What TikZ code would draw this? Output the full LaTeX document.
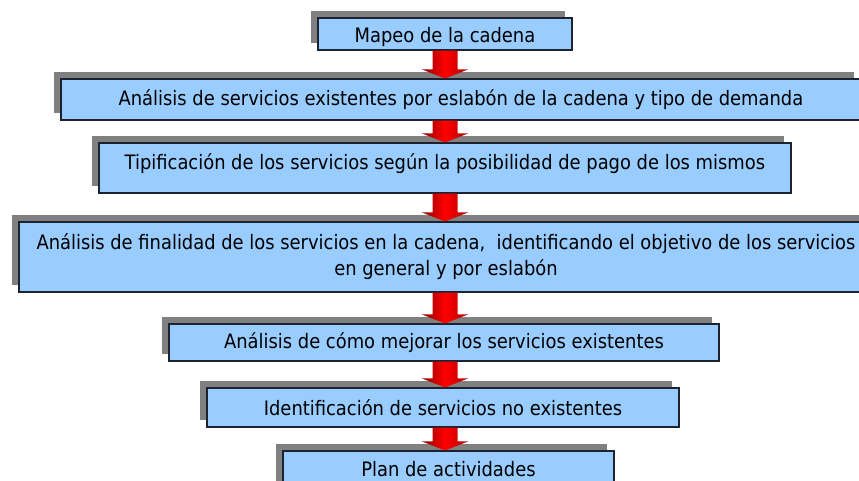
\documentclass[tikz,border=0pt]{standalone}
\usepackage{fontspec}
\setmainfont{DejaVu Sans Condensed}
\usetikzlibrary{calc,shadows}
\definecolor{boxfill}{HTML}{99CCFF}
\definecolor{boxline}{HTML}{1C2230}
\definecolor{shadowgray}{HTML}{808080}
\tikzset{
  stepbox/.style={draw=boxline, line width=1.1pt, fill=boxfill, inner sep=0pt,
    align=center, font=\fontsize{19.9}{26}\selectfont, text=black,
    general shadow={fill=shadowgray, shadow xshift=-7pt, shadow yshift=7pt}},
  redarrow/.style={left color=red!55!black, right color=red!70!black, middle color=red}
}
\newcommand{\flowarrow}[2]{%
  \path[redarrow]
    ($(#1.south -| axis)+(-12.5,0)$) --
    ($(#2.north -| axis)+(-12.5,-9)$) --
    ($(#2.north -| axis)+(-23,-9)$) --
    (#2.north -| axis) --
    ($(#2.north -| axis)+(23,-9)$) --
    ($(#2.north -| axis)+(12.5,-9)$) --
    ($(#1.south -| axis)+(12.5,0)$) -- cycle;}
\begin{document}
\begin{tikzpicture}[x=1pt,y=-1pt]
\useasboundingbox[fill=white] (0,0) rectangle (859,480);
\coordinate (axis) at (445,0);
\node[stepbox, minimum width=254pt, minimum height=32pt] (b1) at (445,34) {\raisebox{0pt}[\dimexpr\height+6pt\relax]{Mapeo de la cadena}};
\node[stepbox, minimum width=800pt, minimum height=41pt] (b2) at (461,99.5) {Análisis de servicios existentes por eslabón de la cadena y tipo de demanda};
\node[stepbox, minimum width=692pt, minimum height=50pt] (b3) at (445,168) {\raisebox{12pt}{Tipificación de los servicios según la posibilidad de pago de los mismos}};
\node[stepbox, minimum width=854pt, minimum height=70pt] (b4) at (446,257) {Análisis de finalidad de los servicios en la cadena,\ \ identificando el objetivo de los servicios\\en general y por eslabón};
\node[stepbox, minimum width=550pt, minimum height=37pt] (b5) at (444,342.5) {Análisis de cómo mejorar los servicios existentes};
\node[stepbox, minimum width=472pt, minimum height=39pt] (b6) at (443,407.5) {Identificación de servicios no existentes};
\node[stepbox, minimum width=331pt, minimum height=37pt] (b7) at (448.5,469.5) {Plan de actividades};
\flowarrow{b1}{b2}
\flowarrow{b2}{b3}
\flowarrow{b3}{b4}
\flowarrow{b4}{b5}
\flowarrow{b5}{b6}
\flowarrow{b6}{b7}
\end{tikzpicture}
\end{document}
